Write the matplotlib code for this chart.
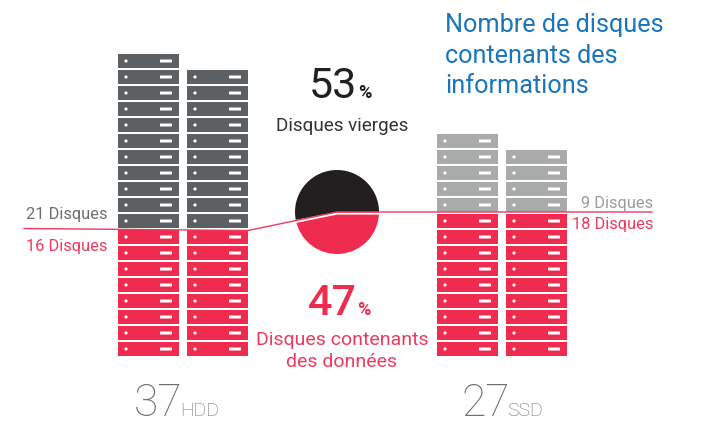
import matplotlib
matplotlib.use("Agg")
import matplotlib.pyplot as plt
from matplotlib.patches import Rectangle, Circle

W, H = 703, 447
RED, DARK, LIGHT, BLACK = "#F02B50", "#5C6063", "#A9ABAA", "#231F20"
BLUE, TXT, RED_TXT, LABEL_GRAY = "#1B75BB", "#6D6E71", "#EE3A5E", "#9A9C9B"

hdd_used = [8, 8]
hdd_empty = [11, 10]
ssd_used = [9, 9]
ssd_empty = [5, 4]
pie_values = [53, 47]

plt.rcParams["font.family"] = ["Roboto", "Liberation Sans", "DejaVu Sans"]
fig = plt.figure(figsize=(W / 100, H / 100), dpi=100)
ax = fig.add_axes([0, 0, 1, 1])
ax.set_xlim(0, W)
ax.set_ylim(H, 0)
ax.axis("off")

BOTTOM, PITCH, UH, UW = 356, 16.0, 14, 61


def stack(x0, used, empty, top_color):
    for i in range(used + empty):
        y = BOTTOM - UH - i * PITCH
        ax.add_patch(Rectangle((x0, y), UW, UH, fc=RED if i < used else top_color, ec="none"))
        ax.add_patch(Circle((x0 + 8, y + 7), 1.6, fc="white", ec="none"))
        ax.add_patch(Rectangle((x0 + 42, y + 5.5), 12, 3, fc="white", ec="none", snap=False))


for x0, u, e in zip([118, 187], hdd_used, hdd_empty):
    stack(x0, u, e, DARK)
for x0, u, e in zip([437, 506], ssd_used, ssd_empty):
    stack(x0, u, e, LIGHT)

# pie
r = 42
span = r * 2.5
cx, cy = 337, 212
pax = fig.add_axes([(cx - span / 2) / W, 1 - (cy + span / 2) / H, span / W, span / H])
pax.pie(pie_values, colors=[BLACK, RED], startangle=0, radius=1.0)
pax.set_xlim(-1.25, 1.25)
pax.set_ylim(-1.25, 1.25)
pax.patch.set_alpha(0)

top = fig.add_axes([0, 0, 1, 1])
top.set_xlim(0, W)
top.set_ylim(H, 0)
top.axis("off")
top.plot([248, 337, 379], [231.5, 213.5, 213.5], color="white", lw=1.6, solid_capstyle="butt")
top.plot([24, 248, 337, 652], [228.5, 230.5, 212, 212], color="#EE3A62", lw=1.0)


def t(x, y, s, size, color, ha="left", weight="regular"):
    top.text(x, y, s, fontsize=size, color=color, ha=ha, va="baseline", fontweight=weight)


for y, s in zip([32, 63, 93], ["Nombre de disques", "contenants des", "informations"]):
    t(445, y, s, 18.2, BLUE)
t(309, 98, "53", 31, BLACK, weight="regular")
t(358, 98, "%", 13, BLACK, weight="bold")
t(342, 131, "Disques vierges", 13.6, "#333333", ha="center")
t(308, 315, "47", 31, RED, weight="medium")
t(357, 315, "%", 13, RED, weight="bold")
t(342, 345, "Disques contenants", 14, RED_TXT, ha="center")
t(342, 367, "des données", 14, RED_TXT, ha="center")
t(134, 416, "37", 32, TXT, weight="light")
t(180, 416, "HDD", 14, TXT, weight="light")
t(461, 416, "27", 32, TXT, weight="light")
t(507, 416, "SSD", 14, TXT, weight="light")
t(107, 219, "21 Disques", 11.8, TXT, ha="right")
t(107, 251, "16 Disques", 11.8, RED_TXT, ha="right")
t(653, 208, "9 Disques", 11.8, LABEL_GRAY, ha="right")
t(653, 229, "18 Disques", 11.8, RED_TXT, ha="right")

fig.savefig("out.png", dpi=100, facecolor="white")
